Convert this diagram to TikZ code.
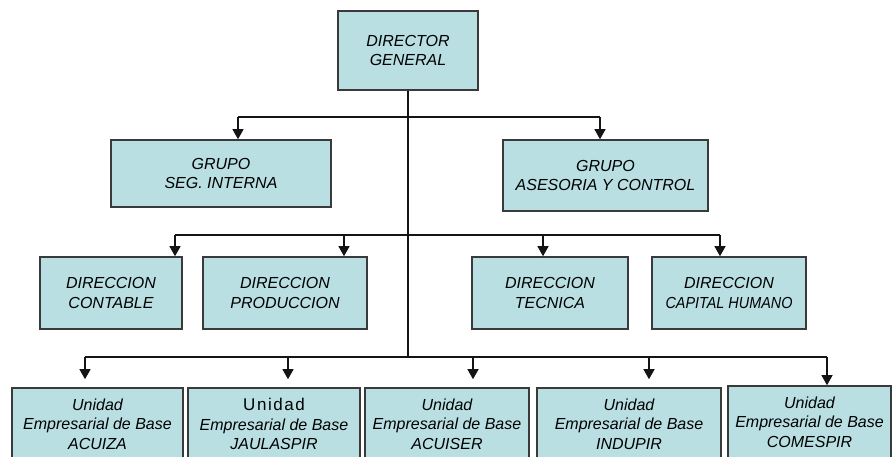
\documentclass[tikz,border=0pt]{standalone}
\usepackage{fontspec}
\setmainfont{Liberation Sans}
\usetikzlibrary{arrows.meta}

\definecolor{boxfill}{RGB}{185,223,227}
\definecolor{boxline}{RGB}{58,58,58}
\definecolor{wire}{RGB}{20,20,20}

\begin{document}
\begin{tikzpicture}[x=1pt,y=-1pt,
  orgbox/.style={draw=boxline, line width=1.6pt, fill=boxfill, rectangle,
    inner sep=0pt, align=center,
    font=\fontsize{16}{19.5}\selectfont\itshape},
  link/.style={draw=wire, line width=1.2pt},
  drop/.style={link, -{Triangle[width=11pt,length=10pt]}}]

\useasboundingbox (0,0) rectangle (893,456);
\clip (0,0) rectangle (893,456);

% top level
\node[orgbox, minimum width=140pt, minimum height=79pt] (dir) at (408,50.5)
  {DIRECTOR\\GENERAL};

% staff groups
\node[orgbox, minimum width=220pt, minimum height=67pt] (seg) at (221,173.5)
  {GRUPO\\SEG. INTERNA};
\node[orgbox, minimum width=205pt, minimum height=71pt] (ase) at (605.5,175.5)
  {GRUPO\\ASESORIA Y CONTROL};

% directions
\node[orgbox, minimum width=142pt, minimum height=72pt] (cont) at (111,293)
  {DIRECCION\\CONTABLE};
\node[orgbox, minimum width=164pt, minimum height=72pt] (prod) at (285,293)
  {DIRECCION\\PRODUCCION};
\node[orgbox, minimum width=156pt, minimum height=72pt] (tec) at (550,293)
  {DIRECCION\\TECNICA};
\node[orgbox, minimum width=154pt, minimum height=72pt] (cap) at (729,293)
  {DIRECCION\\{\addfontfeatures{FakeStretch=0.9}CAPITAL HUMANO}};

% base units
\node[orgbox, minimum width=171pt, minimum height=72pt] (acuiza) at (97.5,424)
  {Unidad\\Empresarial de Base\\ACUIZA};
\node[orgbox, minimum width=172pt, minimum height=72pt] (jaula) at (274,424)
  {{\upshape\fontsize{17}{19.5}\selectfont\addfontfeatures{LetterSpace=9}Unidad}\\Empresarial de Base\\JAULASPIR};
\node[orgbox, minimum width=164pt, minimum height=72pt] (acuiser) at (447,424)
  {Unidad\\Empresarial de Base\\ACUISER};
\node[orgbox, minimum width=184pt, minimum height=72pt] (indu) at (629,424)
  {Unidad\\Empresarial de Base\\INDUPIR};
\node[orgbox, minimum width=163pt, minimum height=72pt] (come) at (809.5,422)
  {Unidad\\Empresarial de Base\\COMESPIR};

% bus points
\coordinate (g1) at (238,117);
\coordinate (g2) at (600,117);
\coordinate (d1) at (175,235);
\coordinate (d2) at (344,235);
\coordinate (d3) at (543,235);
\coordinate (d4) at (720,235);
\coordinate (u1) at (85,357);
\coordinate (u2) at (288,357);
\coordinate (u3) at (473,357);
\coordinate (u4) at (649,357);
\coordinate (u5) at (827,357);

% trunk
\draw[link] (dir.south) -- (dir.south |- u1);

% buses
\draw[link] (g1) -- (g2);
\draw[link] (d1) -- (d4);
\draw[link] (u1) -- (u5);

% drops to the staff groups
\draw[drop] (g1) -- (g1 |- seg.north);
\draw[drop] (g2) -- (g2 |- ase.north);

% drops to the directions
\draw[drop] (d1) -- (d1 |- cont.north);
\draw[drop] (d2) -- (d2 |- prod.north);
\draw[drop] (d3) -- (d3 |- tec.north);
\draw[drop] (d4) -- (d4 |- cap.north);

% drops to the base units
\draw[drop, shorten >=8pt] (u1) -- (u1 |- acuiza.north);
\draw[drop, shorten >=8pt] (u2) -- (u2 |- jaula.north);
\draw[drop, shorten >=8pt] (u3) -- (u3 |- acuiser.north);
\draw[drop, shorten >=8pt] (u4) -- (u4 |- indu.north);
\draw[drop] (u5) -- (u5 |- come.north);

\end{tikzpicture}
\end{document}
